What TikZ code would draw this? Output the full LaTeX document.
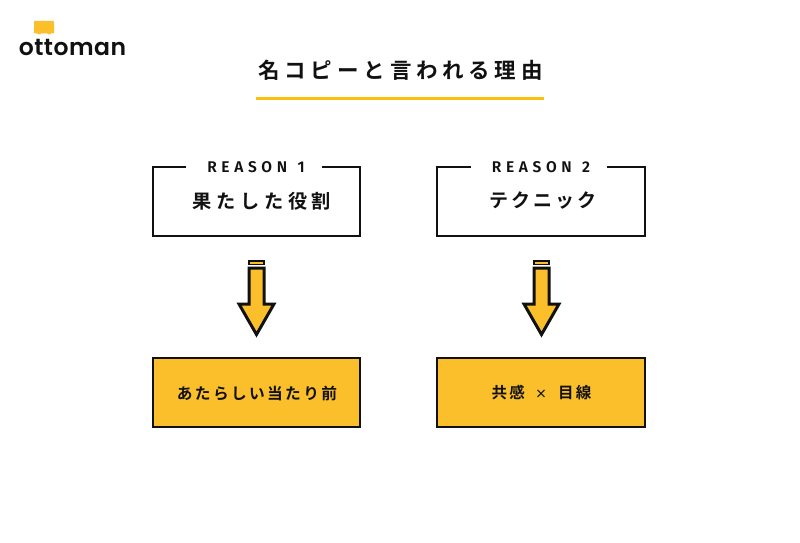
\documentclass[tikz,border=0pt]{standalone}
\usepackage{fontspec}
\newfontfamily\jpa[LetterSpace=23]{Noto Sans CJK JP Bold}
\newfontfamily\jpb[LetterSpace=24]{Noto Sans CJK JP Bold}
\newfontfamily\jpc[LetterSpace=15]{Noto Sans CJK JP Bold}
\newfontfamily\reasonfont[LetterSpace=30]{Fira Sans SemiBold}
\newfontfamily\logofont[LetterSpace=2]{Poppins SemiBold}
\definecolor{amber}{HTML}{FBBF2C}
\definecolor{rulegold}{HTML}{FDC010}
\definecolor{ink}{HTML}{111111}
\tikzset{
  x=1pt,y=-1pt,
  frame/.style={draw=ink,line width=2.3pt},
  arrowshape/.style={draw=ink,line width=3pt,fill=amber,line join=miter},
  capshape/.style={draw=ink,line width=1.9pt,fill=amber},
  lbl/.style={text=ink,inner sep=0pt,anchor=center}
}
\newcommand{\px}[1]{\fontsize{#1pt}{#1pt}\selectfont}
\begin{document}
\begin{tikzpicture}
\useasboundingbox (0,0) rectangle (800,543);
\fill[white] (0,0) rectangle (800,543);

% logo
\fill[amber,rounded corners=0.8pt] (34,21) -- (54,21) -- (54,33.5) -- (50,33.5) -- (49,35) -- (48,33.5) -- (40,33.5) -- (39,35) -- (38,33.5) -- (34,33.5) -- cycle;
\node[lbl] (logo) at (72.5,47.5) {\logofont\px{23.5}ottoman};

% heading
\node[lbl] (title) at (400.5,70) {\jpa\px{21.5}名コピーと言われる理由};
\draw[rulegold,line width=2.4pt] (256,98.5) -- (544,98.5);

% left column
\draw[frame] (186,167) -- (153,167) -- (153,236) -- (360,236) -- (360,167) -- (322,167);
\node[lbl] (r1) at (256,167.5) {\reasonfont\px{15.5}REASON\hspace{2pt} 1};
\node[lbl] (t1) at (262,201) {\jpb\px{19.2}果たした役割};
\draw[capshape] (249.2,261) rectangle (263.8,264.5);
\draw[arrowshape] (249,268) -- (264,268) -- (264,304) -- (274,304) -- (256.5,334.5) -- (239,304) -- (249,304) -- cycle;
\draw[frame,fill=amber] (153,358) rectangle (360,427);
\node[lbl] (b1) at (257,393) {\jpc\px{15.7}あたらしい当たり前};

% right column
\draw[frame] (471,167) -- (437,167) -- (437,236) -- (645,236) -- (645,167) -- (607,167);
\node[lbl] (r2) at (541,167.5) {\reasonfont\px{15.5}REASON\hspace{2pt} 2};
\node[lbl] (t2) at (543,201) {\jpc\px{19}テクニック};
\draw[capshape] (534.2,261) rectangle (548.8,264.5);
\draw[arrowshape] (534,268) -- (549,268) -- (549,304) -- (559,304) -- (541.5,334.5) -- (524,304) -- (534,304) -- cycle;
\draw[frame,fill=amber] (437,358) rectangle (645,427);
\node[lbl] (b2) at (541.5,393) {\jpc\px{15.5}共感\hspace{10pt}{\px{12}×}\hspace{11pt}目線};
\end{tikzpicture}
\end{document}
